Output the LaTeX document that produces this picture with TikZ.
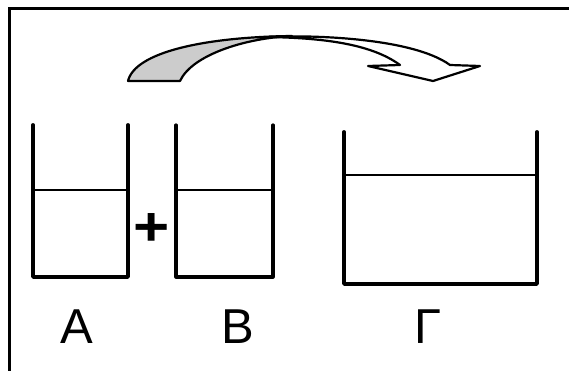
\documentclass[tikz,border=0pt]{standalone}
\usepackage{fontspec}
\setmainfont{Liberation Sans}
\tikzset{
  wall/.style={line width=3.8pt, line cap=round, line join=round},
  thinwall/.style={line width=3.2pt, line cap=round, line join=round},
  water/.style={line width=2pt},
  band/.style={line width=2.2pt, line join=round},
  letter/.style={font=\fontsize{49}{50}\selectfont, inner sep=0pt}
}
\begin{document}
\begin{tikzpicture}[x=1pt,y=-1pt]
	\useasboundingbox (0,0) rectangle (569,371);
	% frame (only top and left are shown)
	\draw[line width=3pt] (569,9) -- (9,9) -- (9,371);
	% curved arrow
	\draw[band,fill=black!20] (128,81) .. controls (135,52) and (205,37) .. (292,36)
		.. controls (245,38) and (192,55) .. (180,81) -- cycle;
	\draw[band,fill=white] (268,37) .. controls (300,35) and (410,36) .. (450,65)
		-- (480,66) -- (433,81) -- (368,66) -- (400,65)
		.. controls (370,43) and (320,38) .. (268,37);
	% beaker A
	\draw[wall] (33,125) -- (33,277) -- (128,277) -- (128,125);
	\draw[water] (33,190) -- (128,190);
	% beaker B
	\draw[thinwall] (176,125) -- (176,277) -- (273,277) -- (273,125);
	\draw[water] (176,190) -- (273,190);
	% beaker Gamma
	\draw[wall] (344,132) -- (344,284) -- (537,284) -- (537,132);
	\draw[water] (344,175) -- (537,175);
	% labels
	\node[font=\fontsize{62}{64}\selectfont\bfseries, inner sep=0pt, yscale=0.88] (plus) at (151.5,230) {+};
	\node[letter] (labelA) at (77,327) {A};
	\node[letter] (labelB) at (238,327) {B};
	\node[letter] (labelC) at (428,327) {Γ};
\end{tikzpicture}
\end{document}
